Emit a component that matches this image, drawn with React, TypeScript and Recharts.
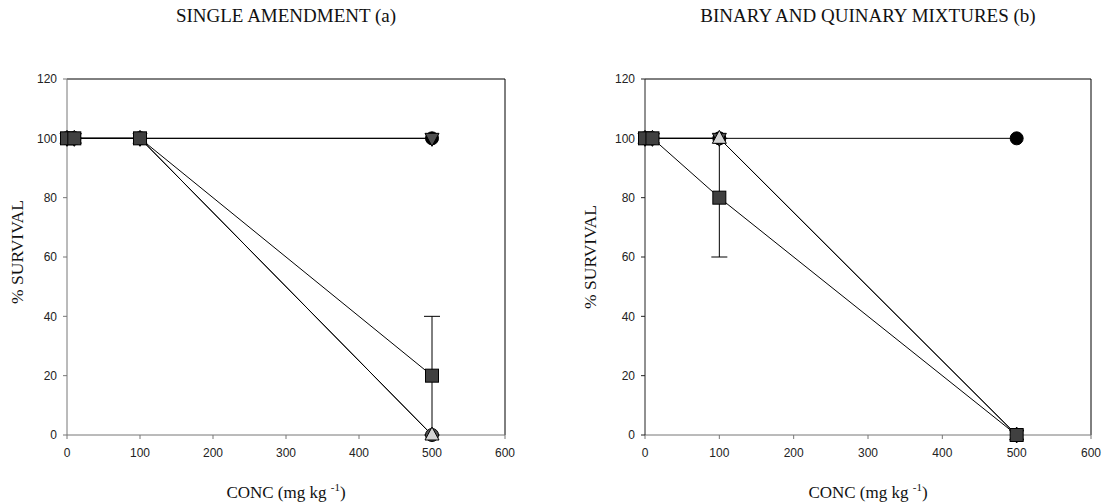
import React from "react";
import {
  LineChart,
  Line,
  XAxis,
  YAxis,
  ErrorBar,
  ReferenceLine,
} from "recharts";

// concentrations (mg kg-1)
const conc = [0, 10, 100, 500];

// (a) single amendment
const singleCircle = [100, 100, 100, 100];
const singleInvTri = [100, 100, 100, 100];
const singleGray = [100, 100, 100, 0];
const singleTri = [100, 100, 100, 0];
const singleSquare = [100, 100, 100, 20];
const singleSquareErr = [0, 0, 0, 20];

// (b) binary and quinary mixtures
const mixCircle = [100, 100, 100, 100];
const mixInvTri = [100, 100, 100, 0];
const mixTri = [100, 100, 100, 0];
const mixSquare = [100, 100, 80, 0];
const mixSquareErr = [0, 0, 20, 0];

const xTicks = [0, 100, 200, 300, 400, 500, 600];
const yTicks = [0, 20, 40, 60, 80, 100, 120];

const singleData = conc.map((c, i) => ({
  conc: c,
  circle: singleCircle[i],
  invTri: singleInvTri[i],
  gray: singleGray[i],
  tri: singleTri[i],
  square: singleSquare[i],
  squareErr: singleSquareErr[i],
}));

const mixData = conc.map((c, i) => ({
  conc: c,
  circle: mixCircle[i],
  invTri: mixInvTri[i],
  tri: mixTri[i],
  square: mixSquare[i],
  squareErr: mixSquareErr[i],
}));

type MarkerKind = "circle" | "grayCircle" | "square" | "tri" | "invTri";

const makeDot = (kind: MarkerKind) => (props: any) => {
  const { cx, cy, key, index } = props;
  const k = key ?? `${kind}-${index}`;
  if (cx == null || cy == null) return <g key={k} />;
  if (kind === "circle")
    return <circle key={k} cx={cx} cy={cy} r={6.5} fill="#000" stroke="#000" />;
  if (kind === "grayCircle")
    return <circle key={k} cx={cx} cy={cy} r={6.5} fill="#555" stroke="#000" />;
  if (kind === "square")
    return (
      <rect key={k} x={cx - 6.5} y={cy - 6.5} width={13} height={13} fill="#404040" stroke="#000" strokeWidth={1} />
    );
  if (kind === "tri")
    return (
      <polygon
        key={k}
        points={`${cx},${cy - 8} ${cx + 7},${cy + 5} ${cx - 7},${cy + 5}`}
        fill="#d4d4d4"
        stroke="#000"
      />
    );
  return (
    <polygon
      key={k}
      points={`${cx - 7},${cy - 5} ${cx + 7},${cy - 5} ${cx},${cy + 8}`}
      fill="#505050"
      stroke="#000"
    />
  );
};

const tickStyle = { fontFamily: "Liberation Sans, Arial, sans-serif", fontSize: 12, fill: "#222" };

const serif = "'Liberation Serif', 'Times New Roman', serif";

const Title = ({ x, y, text }: { x: number; y: number; text: string }) => (
  <div
    style={{
      position: "absolute",
      left: x,
      top: y,
      transform: "translate(-50%, -50%)",
      fontFamily: serif,
      fontSize: 19,
      whiteSpace: "nowrap",
      color: "#111",
    }}
  >
    {text}
  </div>
);

const YLabel = ({ x, y }: { x: number; y: number }) => (
  <div
    style={{
      position: "absolute",
      left: x,
      top: y,
      transform: "translate(-50%, -50%) rotate(-90deg)",
      fontFamily: serif,
      fontSize: 17.5,
      whiteSpace: "nowrap",
      color: "#111",
    }}
  >
    % SURVIVAL
  </div>
);

const XLabel = ({ x, y }: { x: number; y: number }) => (
  <div
    style={{
      position: "absolute",
      left: x,
      top: y,
      transform: "translate(-50%, -50%)",
      fontFamily: serif,
      fontSize: 17,
      whiteSpace: "nowrap",
      color: "#111",
    }}
  >
    CONC (mg kg <sup style={{ fontSize: 11 }}>-1</sup>)
  </div>
);

const Panel = ({
  data,
  width,
  right,
  yAxisColor,
  series,
}: {
  data: any[];
  width: number;
  right: number;
  yAxisColor: string;
  series: { key: string; kind: MarkerKind; err?: boolean }[];
}) => (
  <LineChart width={width} height={504} data={data} margin={{ top: 79, right, left: 27, bottom: 39 }}>
    <XAxis
      dataKey="conc"
      type="number"
      domain={[0, 600]}
      ticks={xTicks}
      height={30}
      tickSize={4}
      tickMargin={9}
      tick={tickStyle}
      axisLine={{ stroke: "#777" }}
      tickLine={{ stroke: "#777" }}
    />
    <YAxis
      type="number"
      domain={[0, 120]}
      ticks={yTicks}
      width={40}
      tickSize={4}
      tickMargin={6}
      tick={tickStyle}
      axisLine={{ stroke: yAxisColor }}
      tickLine={{ stroke: yAxisColor }}
    />
    <ReferenceLine y={120} stroke="#000" strokeWidth={1} />
    <ReferenceLine x={600} stroke="#000" strokeWidth={1} />
    {series.map((s) => (
      <Line
        key={s.key}
        dataKey={s.key}
        stroke="#000"
        strokeWidth={1}
        dot={makeDot(s.kind)}
        activeDot={false}
        isAnimationActive={false}
        type="linear"
      >
        {s.err && <ErrorBar dataKey="squareErr" width={8} stroke="#000" strokeWidth={1} direction="y" />}
      </Line>
    ))}
  </LineChart>
);

export default function App() {
  return (
    <div style={{ position: "absolute", left: 0, top: 0, width: 1105, height: 504, background: "#fff" }}>
      <div style={{ position: "absolute", left: 0, top: 0 }}>
        <Panel
          data={singleData}
          width={540}
          right={35}
          yAxisColor="#777"
          series={[
            { key: "circle", kind: "circle" },
            { key: "gray", kind: "grayCircle" },
            { key: "invTri", kind: "invTri" },
            { key: "tri", kind: "tri" },
            { key: "square", kind: "square", err: true },
          ]}
        />
      </div>
      <div style={{ position: "absolute", left: 578, top: 0 }}>
        <Panel
          data={mixData}
          width={527}
          right={14}
          yAxisColor="#222"
          series={[
            { key: "circle", kind: "circle" },
            { key: "invTri", kind: "invTri" },
            { key: "tri", kind: "tri" },
            { key: "square", kind: "square", err: true },
          ]}
        />
      </div>
      <Title x={286} y={16} text="SINGLE AMENDMENT (a)" />
      <Title x={868} y={16} text="BINARY AND QUINARY MIXTURES (b)" />
      <YLabel x={17} y={252} />
      <YLabel x={590} y={257} />
      <XLabel x={286} y={492} />
      <XLabel x={868} y={492} />
    </div>
  );
}
